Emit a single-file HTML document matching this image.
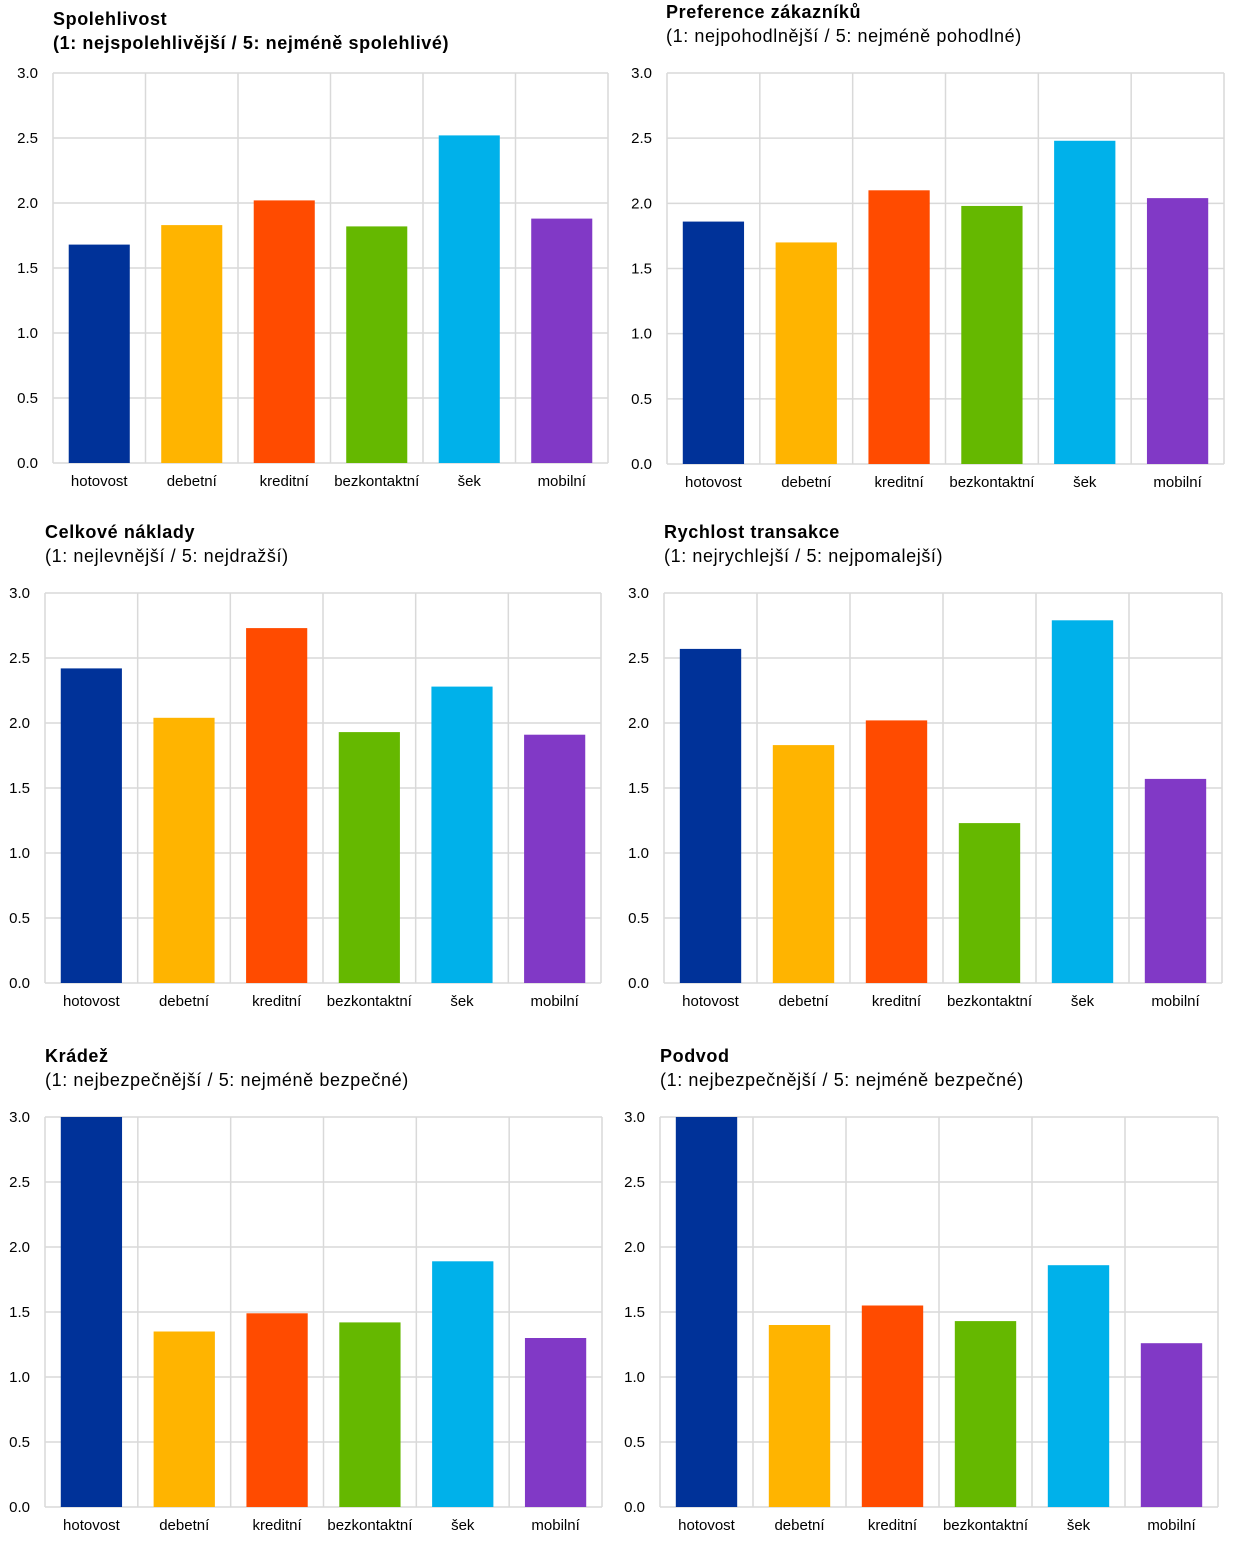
<!DOCTYPE html>
<html><head><meta charset="utf-8">
<style>
body{margin:0;background:#fff;}
svg{display:block;font-family:"Liberation Sans",Arial,sans-serif;}
</style></head>
<body>
<svg id="chart" width="1240" height="1543" xmlns="http://www.w3.org/2000/svg"></svg>
<script>
const categories = ["hotovost","debetní","kreditní","bezkontaktní","šek","mobilní"];
const colors = ["#003299","#FFB400","#FF4B00","#65B800","#00B1EA","#8139C6"];
const yTicks = ["0.0","0.5","1.0","1.5","2.0","2.5","3.0"];
const valsReliability = [1.68,1.83,2.02,1.82,2.52,1.88];
const valsPreference = [1.86,1.70,2.10,1.98,2.48,2.04];
const valsCost = [2.42,2.04,2.73,1.93,2.28,1.91];
const valsSpeed = [2.57,1.83,2.02,1.23,2.79,1.57];
const valsTheft = [3.0,1.35,1.49,1.42,1.89,1.30];
const valsFraud = [3.0,1.40,1.55,1.43,1.86,1.26];

const panels = [
 {name:"reliability",t1:"Spolehlivost",t2:"(1: nejspolehlivější / 5: nejméně spolehlivé)",b2:true,x0:53,x1:608,yT:73,yB:463,tx:53,ty:25,vals:valsReliability},
 {name:"preference",t1:"Preference zákazníků",t2:"(1: nejpohodlnější / 5: nejméně pohodlné)",b2:false,x0:667,x1:1224,yT:73,yB:464,tx:666,ty:18,vals:valsPreference},
 {name:"cost",t1:"Celkové náklady",t2:"(1: nejlevnější / 5: nejdražší)",b2:false,x0:45,x1:601,yT:593,yB:983,tx:45,ty:538,vals:valsCost},
 {name:"speed",t1:"Rychlost transakce",t2:"(1: nejrychlejší / 5: nejpomalejší)",b2:false,x0:664,x1:1222,yT:593,yB:983,tx:664,ty:538,vals:valsSpeed},
 {name:"theft",t1:"Krádež",t2:"(1: nejbezpečnější / 5: nejméně bezpečné)",b2:false,x0:45,x1:602,yT:1117,yB:1507,tx:45,ty:1062,vals:valsTheft},
 {name:"fraud",t1:"Podvod",t2:"(1: nejbezpečnější / 5: nejméně bezpečné)",b2:false,x0:660,x1:1218,yT:1117,yB:1507,tx:660,ty:1062,vals:valsFraud}
];
const NS="http://www.w3.org/2000/svg";
const svg=document.getElementById('chart');
function mk(tag,attrs,parent){const e=document.createElementNS(NS,tag);for(const k in attrs)e.setAttribute(k,attrs[k]);(parent||svg).appendChild(e);return e;}
panels.forEach(p=>{
 const g=mk('g',{});
 
 
 const yMax=3.0;
 const yS=v=>p.yB-(Math.min(v,yMax)/yMax)*(p.yB-p.yT);
 const bw=(p.x1-p.x0)/categories.length;
 const xS=i=>p.x0+i*bw;
 const t1=mk('text',{x:p.tx,y:p.ty,'font-size':18,'font-weight':'bold','letter-spacing':'0.6',fill:'#000'},g);
 t1.textContent=p.t1;
 
 
 const t2=mk('text',{x:p.tx,y:p.ty+24,'font-size':18,'font-weight':p.b2?'bold':'normal','letter-spacing':'0.6',fill:'#000'},g);
 t2.textContent=p.t2;
 
 
 yTicks.forEach(t=>{
  const y=yS(parseFloat(t));
  const l=mk('line',{x1:p.x0,x2:p.x1,y1:y,y2:y,stroke:'#d9d9d9','stroke-width':1.5},g);
  
  
  const tx=mk('text',{x:p.x0-15,y:y+5,'font-size':15,'text-anchor':'end',fill:'#000'},g);
  tx.textContent=t;
  
  
 });
 for(let i=0;i<=categories.length;i++){
  const l=mk('line',{x1:xS(i),x2:xS(i),y1:p.yT,y2:p.yB,stroke:'#d9d9d9','stroke-width':1.5},g);
  
  
 }
 categories.forEach((c,i)=>{
  const v=p.vals[i];
  const w=bw*0.66;
  const x=xS(i)+(bw-w)/2;
  const r=mk('rect',{x:x,y:yS(v),width:w,height:p.yB-yS(v),fill:colors[i]},g);
  
  
  const lt=mk('text',{x:xS(i)+bw/2,y:p.yB+23,'font-size':15,'text-anchor':'middle',fill:'#000'},g);
  lt.textContent=c;
  
  
 });
});
</script>
</body></html>
